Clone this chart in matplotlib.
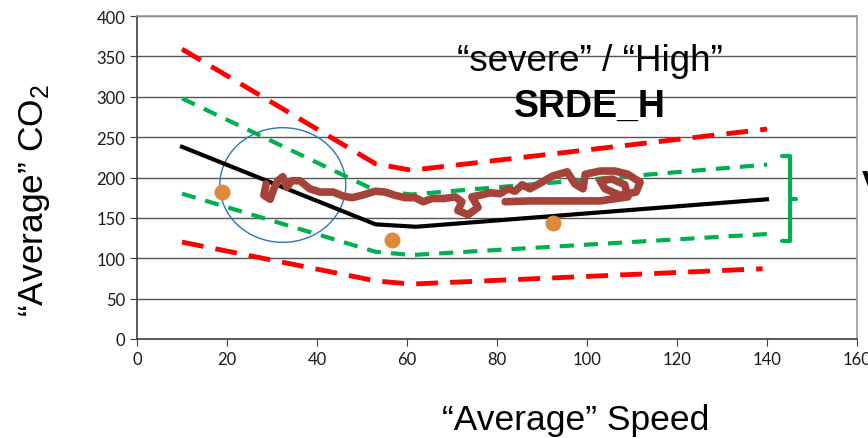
import numpy as np
import matplotlib
matplotlib.use("Agg")
import matplotlib.pyplot as plt
from matplotlib.patches import Ellipse

plt.rcParams['font.family'] = ['Liberation Sans', 'DejaVu Sans']
plt.rcParams['mathtext.fontset'] = 'custom'
plt.rcParams['mathtext.rm'] = 'Liberation Sans'

# reference curves (speed, CO2)
mean_x = [10, 53, 62, 140]
mean_y = [238, 142, 139, 173]
red_hi_x = [10, 53, 61, 140]
red_hi_y = [359, 217, 209, 260]
red_lo_x = [10, 53, 61, 139]
red_lo_y = [120, 72, 68, 87]
green_hi_x = [10, 53, 61, 140]
green_hi_y = [298, 184, 179, 216]
green_lo_x = [10, 53, 61, 140]
green_lo_y = [180, 108, 104, 130]

# test points
dots_x = [18.9, 56.7, 92.4]
dots_y = [182, 122, 144]

# measured trace
trace_x = [28.7, 28.2, 29.6, 30.4, 31.3, 32.4, 33.3, 34.4, 36.2, 38.4, 40.7, 43.6,
           45.8, 47.8, 50.0, 52.9, 55.1, 57.3, 59.6, 61.8, 63.6, 65.6, 68.4, 70.7,
           72.2, 71.3, 73.6, 75.8, 74.4, 76.2, 78.4, 80.7, 82.4, 84.0, 85.6, 87.3,
           89.6, 92.4, 95.6, 97.3, 99.1, 99.6, 102.9, 106.2, 109.1, 111.8, 110.9,
           107.3, 104.0, 102.9, 105.6, 108.4, 109.1, 102.9, 94.0, 87.3, 81.8]
trace_y = [192, 178, 173, 186, 196, 201, 188, 196, 196, 186, 182, 182,
           177, 175, 178, 183, 182, 178, 175, 175, 170, 174, 174, 176,
           170, 159, 154, 163, 176, 178, 181, 180, 186, 183, 191, 186,
           193, 202, 207, 192, 186, 204, 208, 208, 204, 194, 182,
           178, 186, 196, 198, 191, 176, 171, 171, 171, 170]

fig = plt.figure(figsize=(8.68, 4.39), dpi=100)
ax = fig.add_axes([137/868, 1-340/439, 720/868, 323/439])

ax.set_xlim(0, 160)
ax.set_ylim(0, 400)
ax.set_xticks(np.arange(0, 161, 20))
ax.set_yticks(np.arange(0, 401, 50))
ax.yaxis.grid(True, color='#555555', lw=1)
ax.set_axisbelow(True)
ax.tick_params(labelsize=12, length=5, color='#404040', labelcolor='#1a1a1a')
for lab in ax.get_xticklabels() + ax.get_yticklabels():
    lab.set_family(['Lato', 'DejaVu Sans'])
for s in ['top', 'right']:
    ax.spines[s].set_color('#999999')
    ax.spines[s].set_linewidth(1.2)
for s in ['left', 'bottom']:
    ax.spines[s].set_color('#404040')
    ax.spines[s].set_linewidth(1.2)

ax.plot(red_hi_x, red_hi_y, color='#FF0000', lw=3.5, dashes=(4.5, 2.5))
ax.plot(red_lo_x, red_lo_y, color='#FF0000', lw=3.5, dashes=(4.5, 2.5))
ax.plot(green_hi_x, green_hi_y, color='#00B050', lw=3, dashes=(3.4, 2.4))
ax.plot(green_lo_x, green_lo_y, color='#00B050', lw=3, dashes=(3.4, 2.4))
ax.plot(mean_x, mean_y, color='black', lw=3, solid_joinstyle='round')

ax.plot(trace_x, trace_y, color='#A5433A', lw=5.5, solid_joinstyle='round',
        solid_capstyle='round')

ax.scatter(dots_x, dots_y, s=110, color='#DD8A3D', zorder=5)

ax.add_patch(Ellipse((32.4, 190.7), 28, 142, fill=False, ec='#2E75B6', lw=1))

# bracket
ax.plot([143.4, 145.1, 145.1, 143.4], [227, 227, 121, 121], color='#00B050',
        lw=3, solid_joinstyle='round', solid_capstyle='round')
ax.plot([145.1, 146.5], [173, 173], color='#00B050', lw=3, solid_capstyle='round')

ax.text(100.7, 333, '\u201csevere\u201d / \u201cHigh\u201d', fontsize=26.5,
        ha='center', va='baseline')
ax.text(100.7, 276, 'SRDE_H', fontsize=27, fontweight='bold',
        ha='center', va='baseline')

fig.text(862/868, 1-185/439, 'V', fontsize=24, fontweight='bold',
         ha='left', va='center')
fig.text(576/868, 1-430/439, '\u201cAverage\u201d Speed', fontsize=25.5,
         ha='center', va='baseline')
fig.text(35/868, 1-200/439, '\u201cAverage\u201d CO$_\\mathregular{2}$', fontsize=25.5,
         ha='center', va='center', rotation=90)

fig.savefig('out.png', dpi=100)
